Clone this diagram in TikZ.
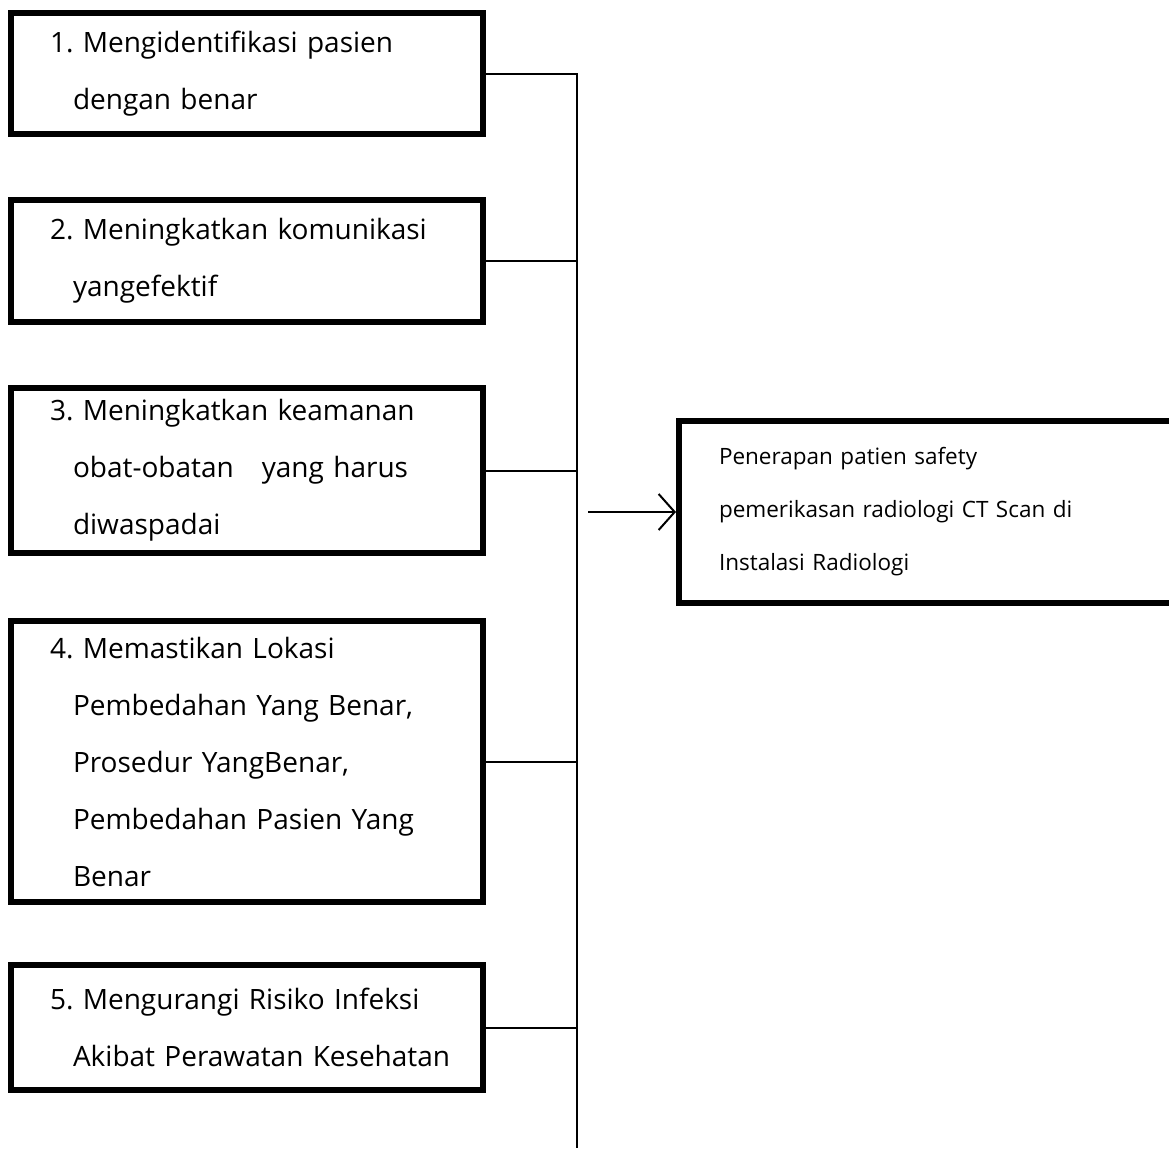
\documentclass[tikz,border=0pt]{standalone}
\usepackage{fontspec}
\setmainfont{Open Sans}
\usetikzlibrary{arrows.meta}
\frenchspacing
\tikzstyle{rec} = [rectangle,draw,line width=6pt,inner xsep=18pt,inner ysep=0pt,text width=436pt,minimum width=472pt,align=left,font=\fontsize{28}{57}\selectfont]
\tikzstyle{recr} = [rectangle,draw,line width=6pt,inner xsep=40pt,inner ysep=0pt,text width=520pt,minimum width=600pt,minimum height=182pt,align=left,font=\fontsize{22.5}{53}\selectfont]
\tikzstyle{link} = [line width=2pt]
\newcommand{\fst}{\hspace*{21pt}}
\newcommand{\ind}{\hspace*{44pt}}

\begin{document}
\begin{tikzpicture}[x=1pt,y=-1pt]
    	\clip (0,0) rectangle (1169,1148);

    	\node[rec,minimum height=121pt](ident) at (247,73.5) {\fst 1. Mengidentifikasi pasien\\\ind dengan benar};
    	\node[rec,minimum height=122pt](komun) at (247,261) {\fst 2. Meningkatkan komunikasi\\\ind yangefektif};
    	\node[rec,minimum height=165pt](obat) at (247,470.5) {\fst 3. Meningkatkan keamanan\\\ind obat-obatan~~ yang harus\\\ind diwaspadai};
    	\node[rec,minimum height=281pt](lokasi) at (247,761.5) {\fst 4. Memastikan Lokasi\\\ind Pembedahan Yang Benar,\\\ind Prosedur YangBenar,\\\ind Pembedahan Pasien Yang\\\ind Benar};
    	\node[rec,minimum height=125pt](infeksi) at (247,1027.5) {\fst 5. Mengurangi Risiko Infeksi\\\ind Akibat Perawatan Kesehatan};
    	\node[recr](hasil) at (979,512) {Penerapan patien safety\\pemerikasan radiologi CT Scan di\\Instalasi Radiologi};

    	\coordinate (spine) at (577,1148);
    	\coordinate (tail) at (588,512);

    	\draw[link] (ident.east) -- (ident.east -| spine) -- (spine);
    	\draw[link] (komun.east) -- (komun.east -| spine);
    	\draw[link] (obat.east) -- (obat.east -| spine);
    	\draw[link] (lokasi.east) -- (lokasi.east -| spine);
    	\draw[link] (infeksi.east) -- (infeksi.east -| spine);
    	\draw[link,-{Straight Barb[length=16pt,width=36pt]}] (tail) -- (hasil.west);

    	\end{tikzpicture}
\end{document}
